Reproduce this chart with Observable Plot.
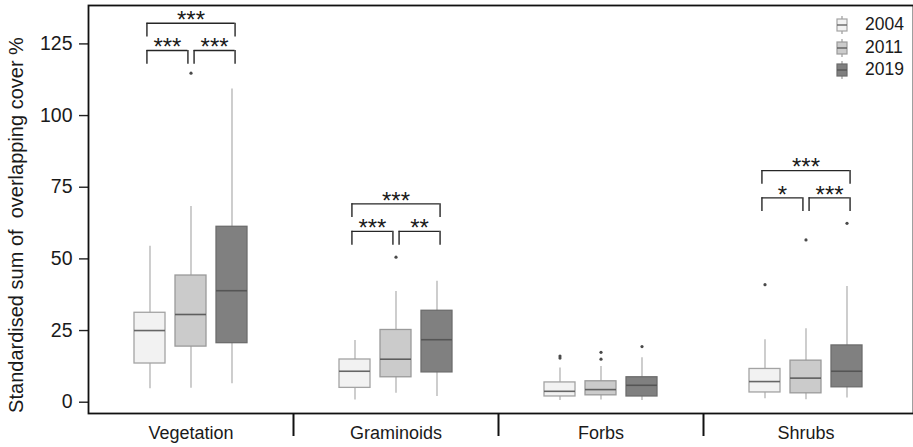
<!DOCTYPE html>
<html><head><meta charset="utf-8">
<script src="https://cdn.jsdelivr.net/npm/d3@7"></script>
<script src="https://cdn.jsdelivr.net/npm/@observablehq/plot@0.6"></script>
<style>
body{margin:0;background:#fff;}
#wrap{position:relative;width:913px;height:447px;font-family:"Liberation Sans",Arial,sans-serif;}
.lg{position:absolute;}
.lt{position:absolute;font-size:17.5px;color:#1a1a1a;line-height:1;}
</style></head><body><div id="wrap"></div>
<script>
const categories = ["Vegetation", "Graminoids", "Forbs", "Shrubs"];
const years = ["2004", "2011", "2019"];
// [lower whisker, Q1, median, Q3, upper whisker] for 2004, 2011, 2019
const vegetation = [[4.7, 13.5, 25.0, 31.2, 54.4], [4.9, 19.4, 30.6, 44.2, 68.3], [6.4, 20.6, 38.9, 61.2, 109.3]];
const graminoids = [[0.8, 5.0, 10.8, 14.9, 21.5], [3.1, 8.7, 15.0, 25.2, 38.6], [2.0, 10.4, 21.8, 31.9, 42.2]];
const forbs = [[0.6, 2.0, 3.8, 6.9, 11.9], [0.8, 2.4, 4.4, 7.3, 12.5], [0.6, 2.0, 5.9, 8.7, 15.5]];
const shrubs = [[1.2, 3.4, 7.2, 11.6, 21.8], [0.9, 3.1, 8.4, 14.5, 25.6], [1.5, 5.2, 10.8, 19.8, 40.4]];
// outliers per year
const vegetationOutliers = [[], [114.8], []];
const graminoidsOutliers = [[], [50.6], []];
const forbsOutliers = [[15.4, 16.1], [15.0, 17.4], [19.4]];
const shrubsOutliers = [[41.0], [56.6], [62.4]];
// significance brackets
const bracketCategory = ["Vegetation", "Vegetation", "Vegetation", "Graminoids", "Graminoids", "Graminoids", "Shrubs", "Shrubs", "Shrubs"];
const bracketFrom = ["2004", "2011", "2004", "2004", "2011", "2004", "2004", "2011", "2004"];
const bracketTo = ["2011", "2019", "2019", "2011", "2019", "2019", "2011", "2019", "2019"];
const bracketHeight = [122.7, 122.7, 132.2, 59.6, 59.6, 69.2, 71.3, 71.3, 80.8];
const bracketLabel = ["***", "***", "***", "***", "**", "***", "*", "***", "***"];
const yTicks = [0, 25, 50, 75, 100, 125];
const yLabel = "Standardised sum of  overlapping cover %";

const summaries = [vegetation, graminoids, forbs, shrubs];
const outlierSets = [vegetationOutliers, graminoidsOutliers, forbsOutliers, shrubsOutliers];
const fills = ["#f2f2f2", "#cbcbcb", "#808080"];
const strokes = ["#a3a3a3", "#9a9a9a", "#6c6c6c"];
const medians = ["#666666", "#5e5e5e", "#555555"];

const pos = (ci, yi) => 5 * ci + 1.5 + yi;
const half = 0.378;
const boxes = categories.flatMap((c, ci) => years.map((y, yi) => {
  const [lo, q1, med, q3, hi] = summaries[ci][yi];
  return {cat: c, year: y, yi, x: pos(ci, yi), lo, q1, med, q3, hi};
}));
const outliers = categories.flatMap((c, ci) => years.flatMap((y, yi) =>
  outlierSets[ci][yi].map(v => ({x: pos(ci, yi), v}))));
const nudge = 0.075, leg = 4.8;
const brackets = bracketCategory.map((c, i) => {
  const ci = categories.indexOf(c);
  const a = years.indexOf(bracketFrom[i]), b = years.indexOf(bracketTo[i]);
  const x1 = pos(ci, a) + (a === 0 ? -nudge : nudge);
  const x2 = pos(ci, b) + (b === 2 ? nudge : -nudge);
  return {x1, x2, h: bracketHeight[i], label: bracketLabel[i]};
});
const legs = brackets.flatMap(d => [{x: d.x1, h: d.h}, {x: d.x2, h: d.h}]);

const boxMarks = years.flatMap((y, yi) => {
  const data = boxes.filter(d => d.yi === yi);
  return [
    Plot.rectY(data, {x1: d => d.x - half, x2: d => d.x + half, y1: "q1", y2: "q3", fill: fills[yi], stroke: strokes[yi], strokeWidth: 1.3}),
    Plot.ruleY(data, {x1: d => d.x - half, x2: d => d.x + half, y: "med", stroke: medians[yi], strokeWidth: 1.6})
  ];
});

const chart = Plot.plot({
  width: 913, height: 447,
  marginLeft: 88, marginRight: 0, marginTop: 5, marginBottom: 34,
  style: {fontFamily: "'Liberation Sans', Arial, sans-serif", fontSize: "18px", color: "#1a1a1a", background: "#fff", overflow: "visible"},
  x: {domain: [0, 825 / 41], axis: null},
  y: {domain: [-3.94, 138.4], axis: null},
  marks: [
    Plot.ruleX(boxes, {x: "x", y1: "lo", y2: "hi", stroke: "#b3b3b3", strokeWidth: 1.3}),
    ...boxMarks,
    Plot.dot(outliers, {x: "x", y: "v", r: 1.6, fill: "#4a4a4a", stroke: "none"}),
    Plot.ruleY(brackets, {x1: "x1", x2: "x2", y: "h", stroke: "#262626", strokeWidth: 1.4}),
    Plot.ruleX(legs, {x: "x", y1: d => d.h - leg, y2: "h", stroke: "#262626", strokeWidth: 1.4}),
    Plot.text(brackets, {x: d => (d.x1 + d.x2) / 2, y: "h", text: "label", fontSize: 24, lineAnchor: "middle", dy: -3, fill: "#1a1a1a"}),
    Plot.axisY({ticks: yTicks, tickSize: 9, tickPadding: 7, fontSize: 19.5, label: null, stroke: "#222", strokeWidth: 1.4}),
    Plot.axisX({ticks: categories.map((c, ci) => pos(ci, 1)), tickSize: 0, tickPadding: 13, tickFormat: (d, i) => categories[i], fontSize: 18, label: null}),
    Plot.axisX({ticks: [5, 10, 15], tickSize: 23, tickFormat: () => "", label: null, stroke: "#111", strokeWidth: 2}),
    Plot.text([yLabel], {frameAnchor: "left", textAnchor: "middle", rotate: -90, dx: -71.5, dy: 15.5, fontSize: 20, lineAnchor: "middle", fill: "#1a1a1a"}),
    Plot.frame({stroke: "#111", strokeWidth: 1.8})
  ]
});
const wrap = document.getElementById("wrap");
wrap.appendChild(chart);

const centers = [25, 47.5, 70];
years.forEach((y, yi) => {
  const g = document.createElement("div");
  g.className = "lg";
  g.style.left = "835px";
  g.style.top = (centers[yi] - 9) + "px";
  g.innerHTML = `<svg width="14" height="18" viewBox="0 0 14 18">
    <line x1="7" x2="7" y1="0" y2="18" stroke="#9a9a9a" stroke-width="1.2"/>
    <rect x="2" y="3" width="10" height="12" fill="${fills[yi]}" stroke="${strokes[yi]}" stroke-width="1.2"/>
    <line x1="2" x2="12" y1="9" y2="9" stroke="${medians[yi]}" stroke-width="1.4"/></svg>`;
  wrap.appendChild(g);
  const t = document.createElement("div");
  t.className = "lt";
  t.style.left = "865px";
  t.style.top = (centers[yi] - 9) + "px";
  t.textContent = y;
  wrap.appendChild(t);
});
</script></body></html>
